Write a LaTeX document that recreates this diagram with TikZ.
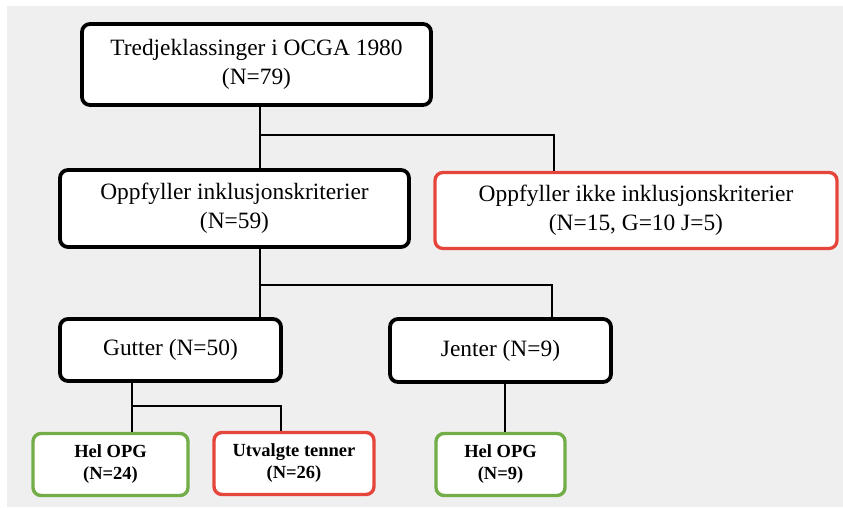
\documentclass[tikz,border=0pt]{standalone}
\usepackage{fontspec}
\setmainfont{Liberation Serif}
\usetikzlibrary{positioning}
\definecolor{panelgray}{HTML}{EFEFEF}
\definecolor{boxred}{HTML}{E5453A}
\definecolor{boxgreen}{HTML}{73AD48}
\tikzset {
  flow node/.style = {
    draw = black,
    fill = white,
    rounded corners = 2.8mm,
    inner sep = 0,
    align = center
  },
  % upper levels of the tree
  group/.style = {
    flow node,
    line width = 3.8pt,
    font = \fontsize{23.4}{28.5}\selectfont
  },
  % excluded pupils
  dropped/.style = {
    group,
    draw = boxred,
    line width = 3.3pt
  },
  % bottom level, bold small text
  leaf/.style = {
    flow node,
    line width = 3.4pt,
    minimum height = 62pt,
    font = \fontsize{18.5}{22}\selectfont\bfseries
  },
  whole/.style = {
    leaf,
    draw = boxgreen
  },
  partial/.style = {
    leaf,
    draw = boxred
  },
  link/.style = {
    draw = black,
    line width = 2.3pt
  }
}

\begin{document}
\begin{tikzpicture}[x=1pt, y=-1pt]
    \useasboundingbox (0,0) rectangle (843,508);
    \fill[panelgray] (7,6) rectangle (843,507);

    \node[group, minimum width=349pt, minimum height=81pt] (total) at (256.5,64.5)
      {Tredjeklassinger i OCGA 1980\\(N=79)};
    \node[group, minimum width=349pt, minimum height=77pt] (incl) at (234.5,208.5)
      {Oppfyller inklusjonskriterier\\(N=59)};
    \node[dropped, minimum width=402pt, minimum height=76pt] (excl) at (636,210.5)
      {Oppfyller ikke inklusjonskriterier\\(N=15, G=10 J=5)};
    \node[group, minimum width=221pt, minimum height=62pt] (boys) at (170.5,350)
      {Gutter (N=50)};
    \node[group, minimum width=221pt, minimum height=63pt] (girls) at (500.5,350.5)
      {Jenter (N=9)};
    \node[whole, minimum width=155pt] (boys-opg) at (110.5,464.5)
      {Hel OPG\\(N=24)};
    \node[partial, minimum width=160pt] (boys-sel) at (294,463.5)
      {Utvalgte tenner\\(N=26)};
    \node[whole, minimum width=129pt] (girls-opg) at (500.5,464.5)
      {Hel OPG\\(N=9)};

    \coordinate (split-a) at (260,135);
    \coordinate (split-b) at (260,285);
    \coordinate (split-c) at (132,406);

    \draw[link] (total.south -| split-a) -- (incl.north -| split-a);
    \draw[link] (split-a) -| ([xshift=-82pt]excl.north);
    \draw[link] (incl.south -| split-b) -- (boys.north -| split-b);
    \draw[link] (split-b) -| ([xshift=51.5pt]girls.north);
    \draw[link] (boys.south -| split-c) -- (boys-opg.north -| split-c);
    \draw[link] (split-c) -| ([xshift=-13pt]boys-sel.north);
    \draw[link] ([xshift=4.5pt]girls.south) -- ([xshift=4.5pt]girls-opg.north);
  \end{tikzpicture}
\end{document}
